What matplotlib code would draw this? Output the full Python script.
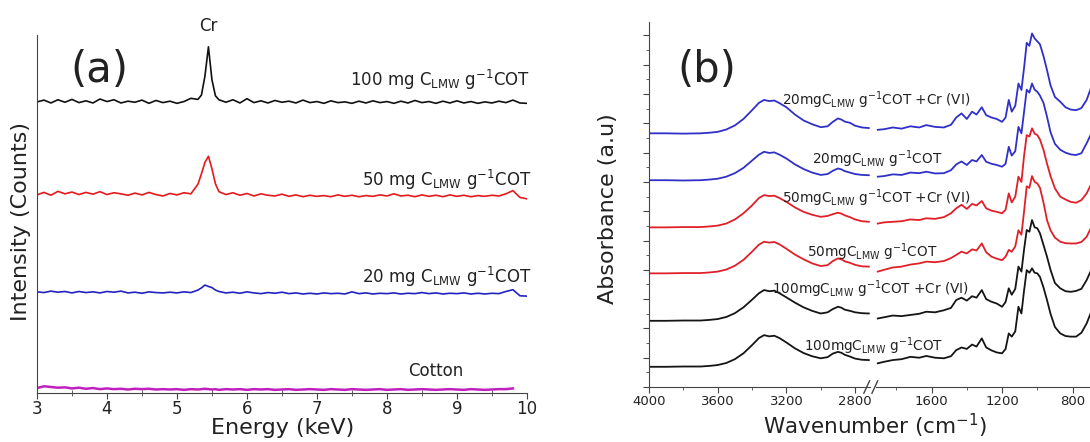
import numpy as np
import matplotlib
matplotlib.use("Agg")
import matplotlib.pyplot as plt
from matplotlib.ticker import MultipleLocator

plt.rcParams["font.family"] = ["DejaVu Sans"]
plt.rcParams["mathtext.default"] = "regular"

# ---------------- (a) EDX spectra ----------------
energy = [3.0, 3.1, 3.2, 3.3, 3.4, 3.5, 3.6, 3.7, 3.8, 3.9,
          4.0, 4.1, 4.2, 4.3, 4.4, 4.5, 4.6, 4.7, 4.8, 4.9,
          5.0, 5.1, 5.2,
          5.3, 5.35, 5.4, 5.45, 5.5, 5.55, 5.6,
          5.7, 5.8, 5.9,
          6.0, 6.1, 6.2, 6.3, 6.4, 6.5, 6.6, 6.7, 6.8, 6.9,
          7.0, 7.1, 7.2, 7.3, 7.4, 7.5, 7.6, 7.7, 7.8, 7.9,
          8.0, 8.1, 8.2, 8.3, 8.4, 8.5, 8.6, 8.7, 8.8, 8.9,
          9.0, 9.1, 9.2, 9.3, 9.4, 9.5, 9.6, 9.7, 9.8, 9.9,
          10.0]

edx_100 = [81.3, 81.8, 81.0, 81.9, 81.2, 82.0, 81.1, 81.6, 81.0, 82.1,
           81.4, 81.9, 81.0, 81.5, 81.2, 81.8, 80.9, 81.7, 81.1, 81.5,
           80.9, 81.4, 82.3,
           82.0, 83.2, 88.5, 96.7, 87.5, 83.0, 81.9,
           81.2, 81.9, 81.0,
           82.2, 81.1, 81.6, 81.0, 81.7, 81.2, 81.5, 81.0, 81.8, 81.1,
           81.4, 80.9, 81.6, 81.1, 81.3, 80.9, 81.5, 81.0, 81.6, 81.1,
           81.4, 80.9, 81.5, 81.0, 81.7, 81.1, 81.4, 80.9, 81.5, 81.0,
           81.6, 81.0, 81.4, 80.9, 81.3, 81.0, 81.5, 81.1, 81.8, 81.0,
           80.9]

edx_50 = [55.3, 56.0, 55.2, 56.3, 55.6, 56.1, 55.4, 56.0, 55.5, 56.2,
          55.4, 55.9, 55.6, 55.2, 55.8, 55.3, 56.0, 55.4, 55.0, 55.7,
          55.3, 55.9, 55.6,
          58.3, 61.2, 64.4, 66.1, 62.6, 58.4, 56.2,
          55.4, 55.9, 55.2,
          55.7, 55.0, 55.6, 55.2, 55.0, 55.5, 54.9, 55.3, 54.8, 55.2,
          54.9, 55.1, 54.8, 55.3, 54.9, 55.2, 54.8, 55.1, 54.9, 55.3,
          55.0, 55.6, 55.0, 55.2, 54.8, 55.3, 54.9, 55.2, 54.8, 55.3,
          54.9, 55.2, 54.8, 55.1, 54.9, 55.2, 55.0, 55.6, 56.5, 54.6,
          54.2]

edx_20 = [28.2, 28.0, 28.4, 28.1, 28.3, 27.9, 28.3, 28.0, 28.2, 27.9,
          28.3, 28.1, 28.4, 27.9, 28.1, 27.8, 28.2, 28.0, 27.9, 28.1,
          27.9, 28.2, 28.0,
          28.7, 29.3, 30.1, 29.7, 29.4, 28.7, 28.3,
          27.9, 28.1, 27.8,
          28.2, 27.9, 27.7, 28.0, 27.8, 28.1, 27.7, 27.9, 27.6, 27.8,
          27.6, 27.9, 27.7, 27.8, 27.6, 28.2, 27.7, 27.9, 27.6, 27.8,
          27.7, 27.9, 27.6, 27.8, 27.7, 28.0, 27.7, 27.9, 27.6, 27.8,
          27.7, 27.9, 27.6, 27.8, 27.6, 27.8, 27.7, 28.3, 28.8, 27.1,
          27.0]

edx_cotton = [1.3, 1.8, 1.6, 1.4, 1.5, 1.2, 1.4, 1.1, 1.3, 1.0,
              1.2, 1.0, 1.1, 0.9, 1.1, 1.0, 1.1, 0.9, 1.0, 0.9,
              1.0, 0.8, 1.0,
              0.9, 1.0, 1.1, 1.0, 0.9, 1.0, 0.8,
              1.0, 0.9, 1.0,
              0.8, 1.0, 0.9, 1.0, 0.8, 0.9, 1.0, 0.8, 0.9, 1.0,
              0.9, 0.8, 1.0, 0.9, 0.8, 1.0, 0.9, 0.8, 0.9, 1.0,
              0.8, 0.9, 1.0, 0.8, 0.9, 1.0, 0.9, 0.8, 0.9, 1.0,
              0.9, 0.8, 1.0, 0.9, 0.8, 0.9, 1.0, 1.0, 1.2, np.nan,
              np.nan]

edx_labels = [r"100 mg C$_{LMW}$ g$^{-1}$COT", r"50 mg C$_{LMW}$ g$^{-1}$COT",
              r"20 mg C$_{LMW}$ g$^{-1}$COT", "Cotton"]

# ---------------- (b) FTIR spectra (axis broken between 2700 and 1900) ----------------
wn_high = [4000, 3900, 3800, 3700, 3650, 3600, 3550, 3500, 3450, 3400,
           3360, 3330, 3300, 3270, 3240, 3200, 3150, 3100, 3050, 3000,
           2960, 2930, 2900, 2880, 2860, 2830, 2800, 2760, 2720]
wn_low = [1905, 1870, 1820, 1770, 1720, 1670, 1630, 1580, 1530, 1490,
          1460, 1430, 1400, 1370, 1345, 1315, 1290, 1260, 1230, 1200,
          1180, 1162, 1145, 1125, 1107, 1090, 1075, 1060, 1045, 1030,
          1015, 1000, 985, 965, 945, 925, 900, 870, 840, 810,
          780, 750, 720, 690, 660]

ftir_20cr_high = [8.66, 8.66, 8.65, 8.66, 8.68, 8.71, 8.79, 8.93, 9.15, 9.45,
                  9.70, 9.80, 9.76, 9.78, 9.69, 9.55, 9.30, 9.10, 8.97, 8.87,
                  8.90, 9.05, 9.17, 9.13, 9.06, 9.02, 8.92, 8.86, 8.84]
ftir_20_high = [7.06, 7.06, 7.05, 7.06, 7.08, 7.11, 7.18, 7.30, 7.48, 7.73,
                7.93, 8.03, 7.99, 8.01, 7.93, 7.80, 7.60, 7.44, 7.32, 7.24,
                7.27, 7.38, 7.46, 7.43, 7.37, 7.32, 7.27, 7.24, 7.23]
ftir_50cr_high = [5.45, 5.45, 5.46, 5.46, 5.48, 5.51, 5.58, 5.72, 5.93, 6.20,
                  6.45, 6.55, 6.52, 6.53, 6.45, 6.32, 6.13, 5.98, 5.88, 5.81,
                  5.84, 5.90, 5.95, 5.92, 5.86, 5.80, 5.72, 5.66, 5.64]
ftir_50_high = [3.88, 3.88, 3.89, 3.89, 3.91, 3.94, 4.01, 4.14, 4.34, 4.62,
                4.86, 4.96, 4.93, 4.95, 4.87, 4.72, 4.52, 4.36, 4.22, 4.13,
                4.16, 4.30, 4.39, 4.36, 4.29, 4.24, 4.17, 4.12, 4.11]
ftir_100cr_high = [2.26, 2.26, 2.27, 2.27, 2.29, 2.32, 2.39, 2.52, 2.72, 2.98,
                   3.20, 3.31, 3.27, 3.29, 3.20, 3.06, 2.88, 2.72, 2.60, 2.51,
                   2.55, 2.66, 2.74, 2.71, 2.64, 2.60, 2.55, 2.52, 2.51]
ftir_100_high = [0.69, 0.69, 0.70, 0.70, 0.72, 0.75, 0.82, 0.95, 1.15, 1.43,
                 1.67, 1.77, 1.73, 1.75, 1.67, 1.52, 1.32, 1.16, 1.05, 0.98,
                 1.02, 1.14, 1.20, 1.17, 1.10, 1.04, 0.97, 0.93, 0.92]

ftir_20cr_low = [8.78, 8.80, 8.86, 8.82, 8.90, 8.86, 8.94, 8.88, 8.86, 8.95,
                 9.20, 9.34, 9.15, 9.40, 9.30, 9.55, 9.28, 9.20, 9.15, 9.05,
                 9.20, 9.80, 9.40, 9.60, 10.36, 10.14, 10.90, 11.75, 11.65, 12.07,
                 11.90, 11.80, 11.70, 11.30, 10.82, 10.30, 9.90, 9.74, 9.55, 9.47,
                 9.45, 9.52, 9.80, 10.30, 10.90]
ftir_20_low = [7.18, 7.20, 7.26, 7.24, 7.32, 7.30, 7.35, 7.29, 7.30, 7.40,
               7.60, 7.70, 7.58, 7.75, 7.70, 7.92, 7.69, 7.62, 7.58, 7.52,
               7.62, 8.20, 7.90, 8.05, 8.88, 8.66, 9.40, 10.15, 10.05, 10.36,
               10.15, 10.08, 9.95, 9.70, 9.23, 8.70, 8.30, 8.10, 8.00, 7.94,
               7.92, 7.98, 8.32, 8.70, 9.20]
ftir_50cr_low = [5.58, 5.62, 5.64, 5.66, 5.72, 5.70, 5.76, 5.74, 5.80, 5.93,
                 6.10, 6.22, 6.08, 6.25, 6.20, 6.35, 6.10, 6.02, 5.98, 5.93,
                 6.05, 6.61, 6.30, 6.50, 7.18, 7.00, 7.90, 8.60, 8.55, 8.83,
                 8.65, 8.60, 8.45, 8.10, 7.63, 7.20, 6.78, 6.50, 6.40, 6.32,
                 6.29, 6.38, 6.61, 6.98, 7.50]
ftir_50_low = [3.94, 4.00, 4.08, 4.11, 4.18, 4.22, 4.28, 4.26, 4.30, 4.40,
               4.51, 4.62, 4.56, 4.70, 4.66, 4.90, 4.60, 4.45, 4.38, 4.33,
               4.45, 4.68, 4.62, 4.80, 5.35, 5.20, 6.00, 6.85, 6.80, 7.20,
               7.00, 6.95, 6.80, 6.30, 5.70, 5.35, 5.10, 4.96, 4.91, 4.90,
               4.90, 4.95, 5.13, 5.50, 6.00]
ftir_100cr_low = [2.34, 2.38, 2.44, 2.42, 2.46, 2.50, 2.57, 2.55, 2.62, 2.70,
                  2.97, 3.05, 2.95, 3.10, 3.05, 3.31, 3.00, 2.91, 2.85, 2.74,
                  2.90, 3.37, 3.15, 3.35, 4.11, 3.94, 4.70, 5.36, 5.30, 5.70,
                  5.45, 5.42, 5.25, 4.85, 4.45, 4.00, 3.55, 3.37, 3.27, 3.25,
                  3.28, 3.35, 3.65, 4.05, 4.50]
ftir_100_low = [0.81, 0.86, 0.92, 0.95, 1.03, 1.00, 1.06, 1.00, 0.98, 1.05,
                1.26, 1.35, 1.30, 1.45, 1.38, 1.66, 1.35, 1.25, 1.18, 1.15,
                1.30, 1.83, 1.72, 1.90, 2.74, 2.51, 3.30, 3.99, 3.90, 4.05,
                3.90, 3.88, 3.76, 3.40, 2.97, 2.50, 2.05, 1.83, 1.74, 1.72,
                1.72, 1.85, 2.17, 2.63, 3.10]

ftir_labels = [r"20mgC$_{LMW}$ g$^{-1}$COT +Cr (VI)", r"20mgC$_{LMW}$ g$^{-1}$COT",
               r"50mgC$_{LMW}$ g$^{-1}$COT +Cr (VI)", r"50mgC$_{LMW}$ g$^{-1}$COT",
               r"100mgC$_{LMW}$ g$^{-1}$COT +Cr (VI)", r"100mgC$_{LMW}$ g$^{-1}$COT"]

text_col = "#222222"
axis_col = "#444444"

fig = plt.figure(figsize=(10.9, 4.42), dpi=100)

# ---- panel (a) ----
ax = fig.add_axes([0.0339, 0.1115, 0.4495, 0.8093])
ax.plot(energy, edx_100, color="#111111", lw=1.2)
ax.plot(energy, edx_50, color="#e41a1c", lw=1.2)
ax.plot(energy, edx_20, color="#2222c0", lw=1.2)
ax.plot(energy, edx_cotton, color="#c020c0", lw=1.8)
ax.set_xlim(3, 10)
ax.set_ylim(0, 100)
for s in ["top", "right"]:
    ax.spines[s].set_visible(False)
for s in ["left", "bottom"]:
    ax.spines[s].set_color(axis_col)
ax.xaxis.set_major_locator(MultipleLocator(1))
ax.xaxis.set_minor_locator(MultipleLocator(0.5))
ax.tick_params(axis="x", which="major", direction="out", length=4, labelsize=12,
               colors=axis_col, labelcolor=text_col, pad=1)
ax.tick_params(axis="x", which="minor", direction="inout", length=4, colors=axis_col)
ax.tick_params(axis="y", left=False, labelleft=False)
ax.set_xlabel("Energy (keV)", fontsize=16, color=text_col)
ax.xaxis.label.set_va("center")
ax.xaxis.set_label_coords(0.502, -0.100)
ax.set_ylabel("Intensity (Counts)", fontsize=16, color=text_col)
ax.yaxis.label.set_va("center")
ax.yaxis.set_label_coords(-0.033, 0.478)

ax.text(10.04, 87.4, edx_labels[0], ha="right", va="center", fontsize=12, color=text_col)
ax.text(10.07, 59.4, edx_labels[1], ha="right", va="center", fontsize=12, color=text_col)
ax.text(10.07, 32.4, edx_labels[2], ha="right", va="center", fontsize=12, color=text_col)
ax.text(8.7, 6.1, edx_labels[3], ha="center", va="center", fontsize=12, color=text_col)
ax.text(5.45, 102.5, "Cr", ha="center", va="center", fontsize=12, color=text_col, clip_on=False)
ax.text(3.89, 90.2, "(a)", ha="center", va="center", fontsize=30, color=text_col)

# ---- panel (b): two axes for the broken wavenumber scale ----
axl = fig.add_axes([0.5954, 0.1244, 0.2028, 0.8258])
axr = fig.add_axes([0.8037, 0.1244, 0.2191, 0.8258], sharey=axl)
axr.patch.set_visible(False)
axl.patch.set_visible(False)
axl.set_zorder(3)

colors_b = ["#3030c8", "#3030c8", "#e02028", "#e02028", "#151515", "#151515"]
high = [ftir_20cr_high, ftir_20_high, ftir_50cr_high, ftir_50_high, ftir_100cr_high, ftir_100_high]
low = [ftir_20cr_low, ftir_20_low, ftir_50cr_low, ftir_50_low, ftir_100cr_low, ftir_100_low]
for yh, yl, c in zip(high, low, colors_b):
    axl.plot(wn_high, yh, color=c, lw=1.3)
    axr.plot(wn_low, yl, color=c, lw=1.3)

axl.set_xlim(4000, 2713)
axr.set_xlim(1915, 560)
axl.set_ylim(0, 12.46)

for s in ["top", "right"]:
    axl.spines[s].set_visible(False)
for s in ["top", "right", "left"]:
    axr.spines[s].set_visible(False)
for a in (axl, axr):
    a.spines["bottom"].set_color(axis_col)
    a.xaxis.set_major_locator(MultipleLocator(400))
    a.xaxis.set_minor_locator(MultipleLocator(200))
    a.tick_params(axis="x", which="major", direction="out", length=4, labelsize=9.5,
                  colors=axis_col, labelcolor=text_col, pad=1.5)
    a.tick_params(axis="x", which="minor", direction="out", length=2.5, colors=axis_col)
axl.spines["left"].set_color(axis_col)
axl.yaxis.set_major_locator(MultipleLocator(1))
axl.yaxis.set_minor_locator(MultipleLocator(0.5))
axl.tick_params(axis="y", which="major", direction="out", length=4, colors=axis_col, labelleft=False)
axl.tick_params(axis="y", which="minor", direction="out", length=2, colors=axis_col)
axr.tick_params(axis="y", which="both", left=False, labelleft=False)

# break marks "//"
dx, dy = 0.013, 0.017
axl.plot([0.985 - dx, 0.985 + dx], [-dy, dy], transform=axl.transAxes,
         color=axis_col, lw=1, clip_on=False)
axr.plot([-0.005 - dx * 0.93, -0.005 + dx * 0.93], [-dy, dy], transform=axr.transAxes,
         color=axis_col, lw=1, clip_on=False)

axl.set_ylabel("Absorbance (a.u)", fontsize=16, color=text_col)
axl.yaxis.label.set_va("center")
axl.yaxis.set_label_coords(-0.187, 0.488)
fig.text(0.8028, 0.037, r"Wavenumber (cm$^{-1}$)", ha="center", va="center",
         fontsize=15.5, color=text_col)

label_pos = [(3226, 9.80), (3051, 7.78), (3226, 6.45), (3080, 4.61), (3284, 3.34), (3098, 1.40)]
for (x, y), lab in zip(label_pos, ftir_labels):
    axl.text(x, y, lab, ha="left", va="center", fontsize=9.8, color=text_col, clip_on=False)
axl.text(3662, 10.82, "(b)", ha="center", va="center", fontsize=30, color=text_col)

fig.savefig("out.png", dpi=100)
